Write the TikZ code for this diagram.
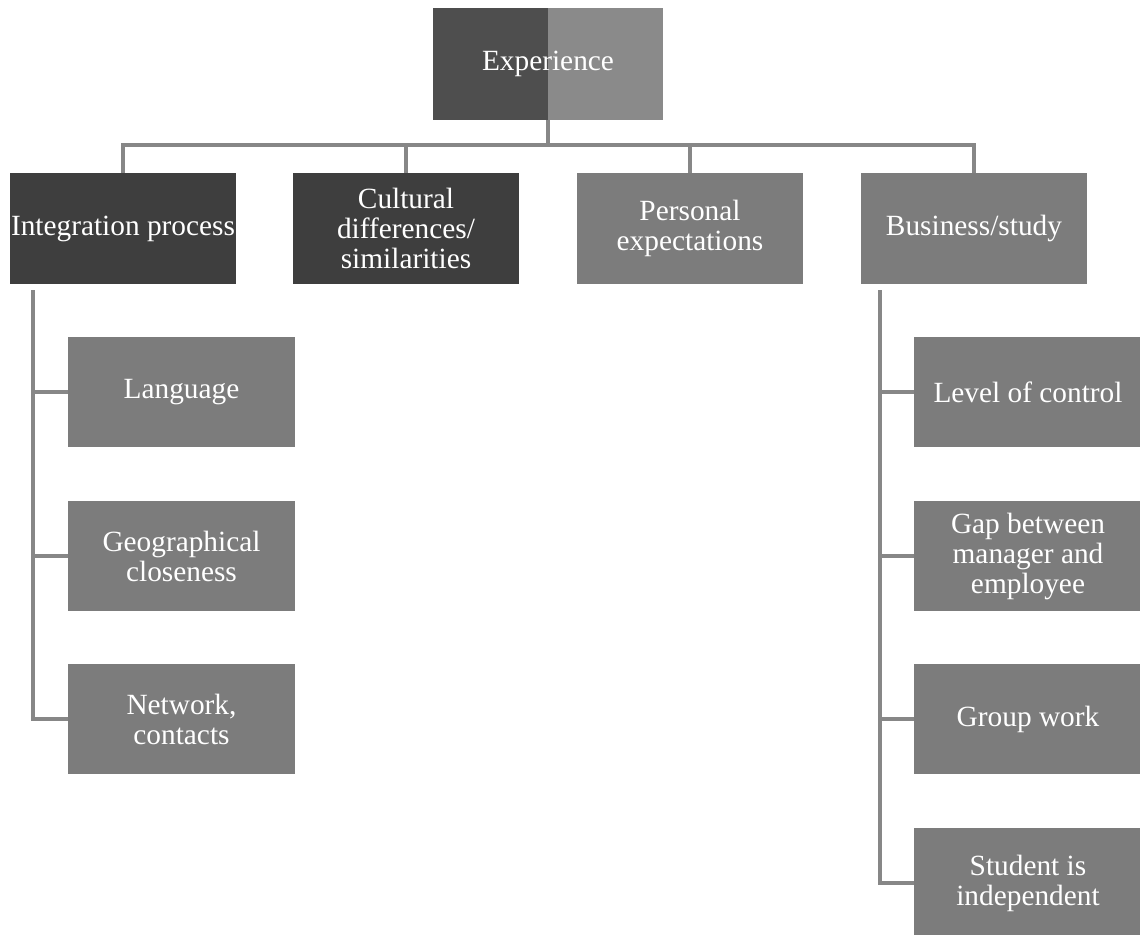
\documentclass[tikz,border=0pt]{standalone}
\usepackage{fontspec}
\setmainfont{Liberation Serif}
\definecolor{darkbox}{RGB}{62,62,62}
\definecolor{midbox}{RGB}{124,124,124}
\definecolor{expleft}{RGB}{78,78,78}
\definecolor{expright}{RGB}{138,138,138}
\definecolor{linkgray}{RGB}{135,135,135}

\begin{document}
\begin{tikzpicture}[x=0.75pt, y=-0.75pt,
	box/.style={fill=midbox, text=white, inner sep=0pt, minimum width=170pt, minimum height=83pt, align=center, font=\fontsize{22}{22.5}\selectfont},
	dark box/.style={box, fill=darkbox},
	leaf/.style={box, minimum width=170.5pt},
	link/.style={draw=linkgray, line width=3pt}]
		\useasboundingbox (0,0) rectangle (1140,935);
		\node[box, minimum width=172.5pt, minimum height=84pt, fill=expright,
		  path picture={\fill[expleft] (path picture bounding box.south west) rectangle (path picture bounding box.north);}] (exp) at (548,64) {Experience};
		\node[dark box] (int) at (123,228.5) {Integration process};
		\node[dark box] (cul) at (406,228.5) {Cultural\\differences/\\similarities};
		\node[box] (per) at (690,228.5) {Personal\\expectations};
		\node[box] (bsn) at (974,228.5) {Business/study};
		\node[leaf] (lang) at (181.5,392) {Language};
		\node[leaf] (geo) at (181.5,556) {Geographical\\closeness};
		\node[leaf] (net) at (181.5,719) {Network,\\contacts};
		\node[leaf] (ctrl) at (1028,392) {Level of control};
		\node[leaf] (gap) at (1028,556) {Gap between\\manager and\\employee};
		\node[leaf] (grp) at (1028,719) {Group work};
		\node[leaf] (stu) at (1028,883) {Student is\\independent};
		\coordinate (hub) at (548,145);
		\coordinate (intspine) at (33,290);
		\coordinate (bsnspine) at (880,290);
		\foreach \n in {int,cul,per,bsn}{
		  \draw[link] (exp.south) -- (hub) -| (\n.north);
		}
		\foreach \n in {lang,geo,net}{
		  \draw[link] (intspine) |- (\n.west);
		}
		\foreach \n in {ctrl,gap,grp,stu}{
		  \draw[link] (bsnspine) |- (\n.west);
		}
	\end{tikzpicture}
\end{document}
